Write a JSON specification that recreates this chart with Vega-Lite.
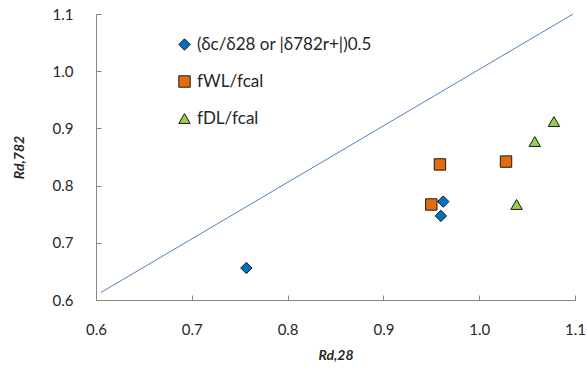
{
  "$schema": "https://vega.github.io/schema/vega-lite/v6.json",
  "width": 479,
  "height": 286,
  "autosize": {"type": "none"},
  "padding": {"left": 96, "top": 14, "right": 12, "bottom": 76},
  "background": "white",
  "config": {
    "view": {"stroke": null},
    "font": "Lato",
    "axis": {"grid": false, "domainColor": "#868686", "tickColor": "#868686", "labelColor": "#262626", "labelFont": "Lato", "labelFontSize": 15, "titleFont": "Lato", "titleColor": "#262626", "labelFlush": false, "labelOverlap": false}
  },
  "layer": [
    {
      "data": {"values": [{"x": 0.605, "y": 0.613}, {"x": 1.098, "y": 1.1}]},
      "mark": {"type": "line", "color": "#4F81BD", "strokeWidth": 1},
      "encoding": {
        "x": {"field": "x", "type": "quantitative"},
        "y": {"field": "y", "type": "quantitative"}
      }
    },
    {
      "data": {"values": [
        {"series": "(δc/δ28 or |δ782r+|)0.5", "x": 0.757, "y": 0.656},
        {"series": "(δc/δ28 or |δ782r+|)0.5", "x": 0.960, "y": 0.747},
        {"series": "(δc/δ28 or |δ782r+|)0.5", "x": 0.9625, "y": 0.772},
        {"series": "fWL/fcal", "x": 0.950, "y": 0.767},
        {"series": "fWL/fcal", "x": 0.959, "y": 0.837},
        {"series": "fWL/fcal", "x": 1.028, "y": 0.842},
        {"series": "fDL/fcal", "x": 1.039, "y": 0.767},
        {"series": "fDL/fcal", "x": 1.058, "y": 0.877},
        {"series": "fDL/fcal", "x": 1.078, "y": 0.912}
      ]},
      "mark": {"type": "point", "filled": true, "size": 130, "stroke": "#1a1a1a", "strokeWidth": 1, "opacity": 1},
      "encoding": {
        "x": {"field": "x", "type": "quantitative", "scale": {"domain": [0.6, 1.1], "nice": false, "zero": false},
          "axis": {"values": [0.6, 0.7, 0.8, 0.9, 1.0, 1.1], "format": ".1f", "tickSize": -5, "labelPadding": 27, "title": "Rd,28", "titleFontWeight": "bold", "titleFontStyle": "italic", "titleFontSize": 14, "titlePadding": 11}},
        "y": {"field": "y", "type": "quantitative", "scale": {"domain": [0.6, 1.1], "nice": false, "zero": false},
          "axis": {"values": [0.6, 0.7, 0.8, 0.9, 1.0, 1.1], "format": ".1f", "tickSize": -5, "labelPadding": 28, "title": "Rd,782", "titleFontWeight": "bold", "titleFontStyle": "italic", "titleFontSize": 14, "titlePadding": 26}},
        "shape": {"field": "series", "type": "nominal",
          "scale": {"domain": ["(δc/δ28 or |δ782r+|)0.5", "fWL/fcal", "fDL/fcal"], "range": ["diamond", "square", "triangle-up"]},
          "legend": {"title": null, "orient": "none", "legendX": 80, "legendY": 22, "labelFontSize": 17, "labelFont": "Lato", "labelColor": "#262626", "labelLimit": 0, "symbolSize": 130, "rowPadding": 19, "symbolStrokeWidth": 1, "symbolStrokeColor": "#1a1a1a", "labelOffset": 4}},
        "color": {"field": "series", "type": "nominal",
          "scale": {"domain": ["(δc/δ28 or |δ782r+|)0.5", "fWL/fcal", "fDL/fcal"], "range": ["#0070C0", "#E46C0A", "#92D050"]},
          "legend": {"title": null, "orient": "none", "legendX": 80, "legendY": 22, "labelFontSize": 17, "labelFont": "Lato", "labelColor": "#262626", "labelLimit": 0, "symbolSize": 130, "rowPadding": 19, "symbolStrokeWidth": 1, "symbolStrokeColor": "#1a1a1a", "labelOffset": 4}}
      }
    }
  ]
}
